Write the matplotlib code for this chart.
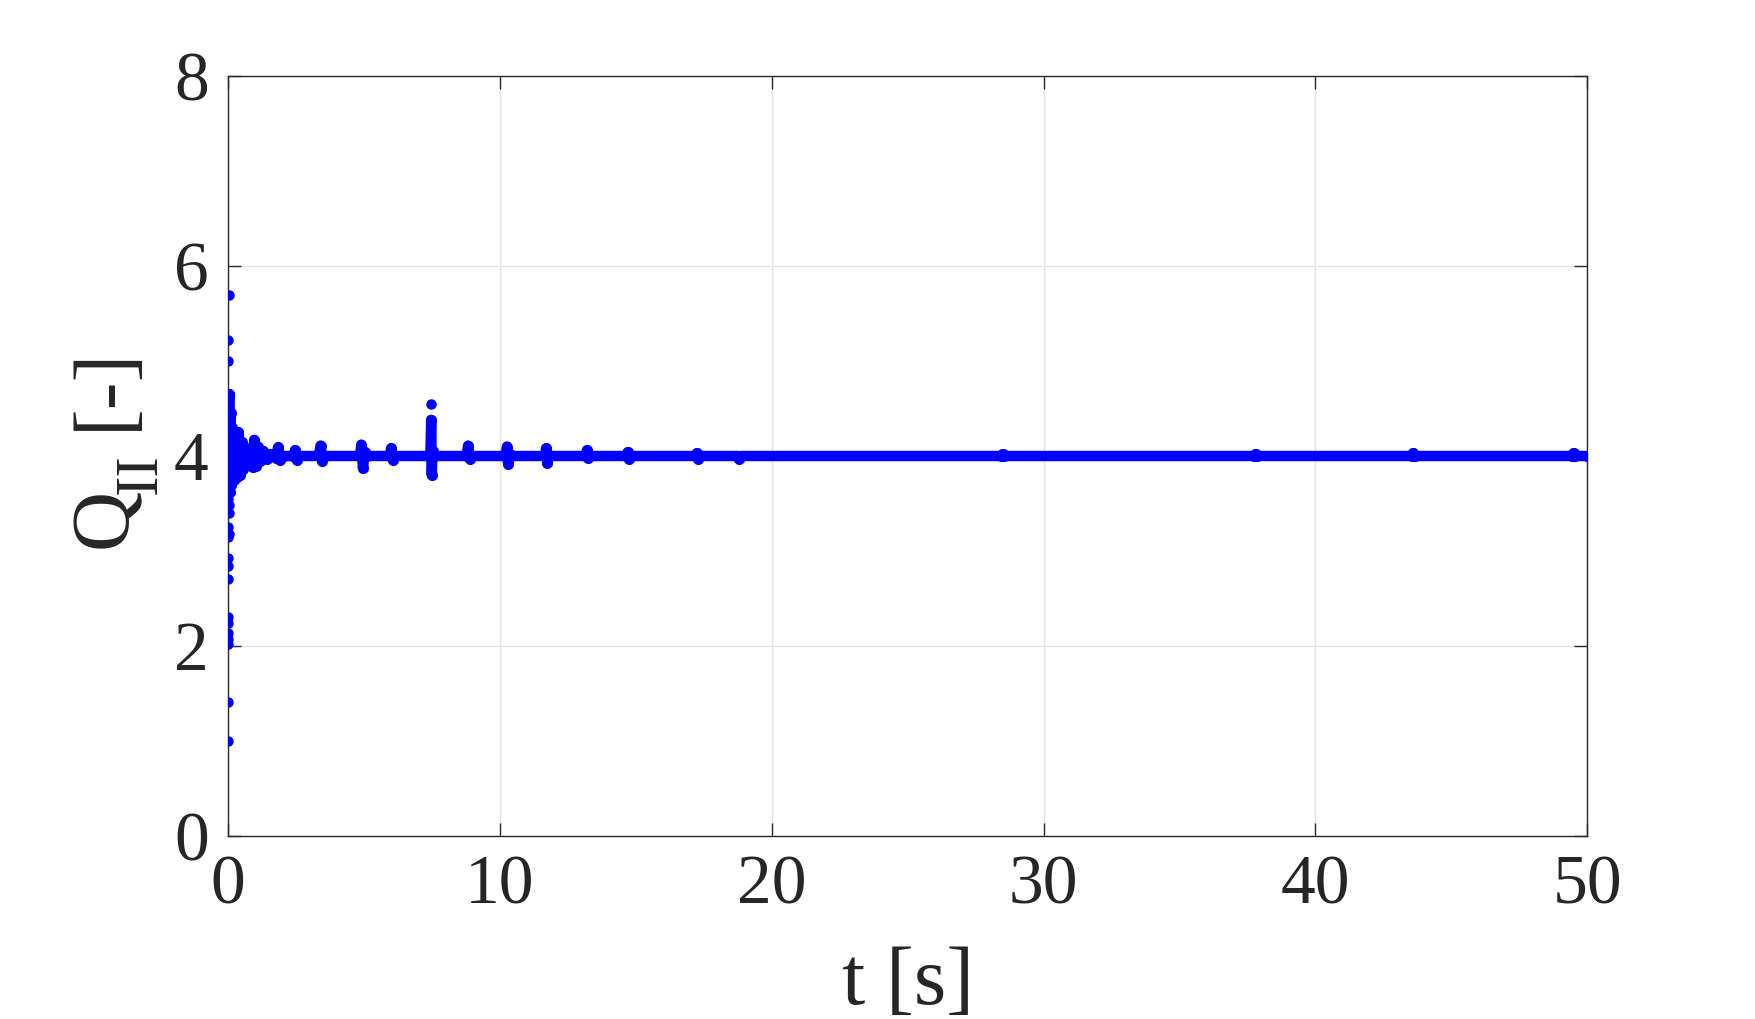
import numpy as np
import matplotlib
matplotlib.use('Agg')
import matplotlib.pyplot as plt

plt.rcParams['font.family'] = ['Liberation Serif', 'DejaVu Serif']

# settled trace of Q_II
t_main = [0.02, 0.04, 0.06, 0.09, 0.12, 0.16, 0.20, 0.26, 0.32, 0.38, 0.44,
          0.50, 0.56, 0.64, 0.72, 0.82, 0.90, 0.96, 1.02, 1.10, 1.18, 1.30,
          1.42, 1.55, 1.75, 1.84, 1.92, 2.05, 2.40, 2.46, 2.52, 2.60, 3.34,
          3.40, 3.46, 3.55, 4.85, 4.90, 4.96, 5.02, 5.10, 5.94, 6.00, 6.06,
          6.12, 7.44, 7.47, 7.49, 7.52, 7.58, 8.77, 8.83, 8.89, 8.95, 10.20,
          10.26, 10.30, 10.36, 10.42, 11.66, 11.70, 11.74, 11.80, 13.15,
          13.20, 13.25, 13.30, 14.65, 14.70, 14.75, 14.80, 17.20, 17.25,
          17.30, 17.35, 18.75, 18.80, 18.85, 28.45, 28.50, 28.55, 37.75,
          37.80, 37.85, 43.55, 43.60, 43.65, 49.45, 49.50, 49.55, 50.00]
q_main = [4.00, 4.65, 3.62, 4.45, 3.70, 4.30, 3.75, 4.20, 3.78, 4.25, 3.80,
          4.15, 3.86, 4.08, 3.92, 4.05, 3.88, 4.17, 3.90, 4.10, 3.95, 4.05,
          3.97, 4.02, 3.98, 4.09, 3.96, 4.00, 4.00, 4.06, 3.96, 4.00, 4.00,
          4.11, 3.95, 4.00, 4.00, 4.12, 3.87, 4.04, 4.00, 4.00, 4.08, 3.96,
          4.00, 4.00, 4.38, 3.80, 4.05, 4.00, 4.00, 4.11, 3.97, 4.00, 4.00,
          4.10, 3.92, 4.02, 4.00, 4.00, 4.08, 3.93, 4.00, 4.00,
          4.06, 3.98, 4.00, 4.00, 4.04, 3.97, 4.00, 4.00, 4.03,
          3.97, 4.00, 4.00, 3.97, 4.00, 4.00, 4.02, 4.00, 4.00,
          4.02, 4.00, 4.00, 4.03, 4.00, 4.00, 4.03, 4.00, 4.00]

# isolated samples during the start-up transient and at t ~ 7.5 s
t_pts = [0.03, 0.00, 0.01, 0.03, 0.02, 0.04, 0.01, 0.02, 0.02, 0.01, 0.02,
         0.01, 0.00, 0.01, 0.00, 0.00, 0.01, 0.00, 0.01, 0.00, 0.00, 0.00,
         7.47]
q_pts = [5.70, 5.22, 5.00, 4.65, 4.62, 4.48, 3.55, 3.48, 3.40, 3.25, 3.18,
         3.15, 2.93, 2.84, 2.70, 2.30, 2.24, 2.14, 2.07, 2.02, 1.41, 1.00,
         4.55]

fig = plt.figure(figsize=(17.55, 10.19), dpi=100)
ax = fig.add_axes([0.130, 0.1796, 0.7744, 0.7458])

ax.plot(t_main, q_main, '-o', color='#0000ff', lw=7.5, ms=7,
        solid_capstyle='round', solid_joinstyle='round', zorder=3)
ax.plot(t_pts, q_pts, 'o', color='#0000ff', ms=6.5, zorder=3)

ax.set_xlim(0, 50)
ax.set_ylim(0, 8)
ax.set_xticks([0, 10, 20, 30, 40, 50])
ax.set_yticks([0, 2, 4, 6, 8])

ax.grid(True, color='#e3e3e3', lw=1.0)
ax.set_axisbelow(True)
for s in ax.spines.values():
    s.set_color('#2b2b2b')
    s.set_linewidth(1.0)
ax.tick_params(direction='in', length=9.5, width=1.0, color='#2b2b2b',
               top=True, right=True, labelsize=50, labelcolor='#262626')
ax.tick_params(axis='x', pad=14)
ax.tick_params(axis='y', pad=14)

ax.set_xlabel('t [s]', fontsize=60, color='#262626')
ax.xaxis.set_label_coords(0.5, -0.145)

# y label built by hand so the subscript drops like the TeX one
lab = dict(rotation=90, rotation_mode='anchor', ha='left', va='baseline',
           color='#262626')
fig.text(126 / 1755, 1 - 548 / 1019, 'Q', fontsize=60, **lab)
fig.text(156 / 1755, 1 - 494 / 1019, 'II', fontsize=44, **lab)
fig.text(126 / 1755, 1 - 430 / 1019, '[-]', fontsize=60, **lab)

fig.savefig('out.png', dpi=100)
